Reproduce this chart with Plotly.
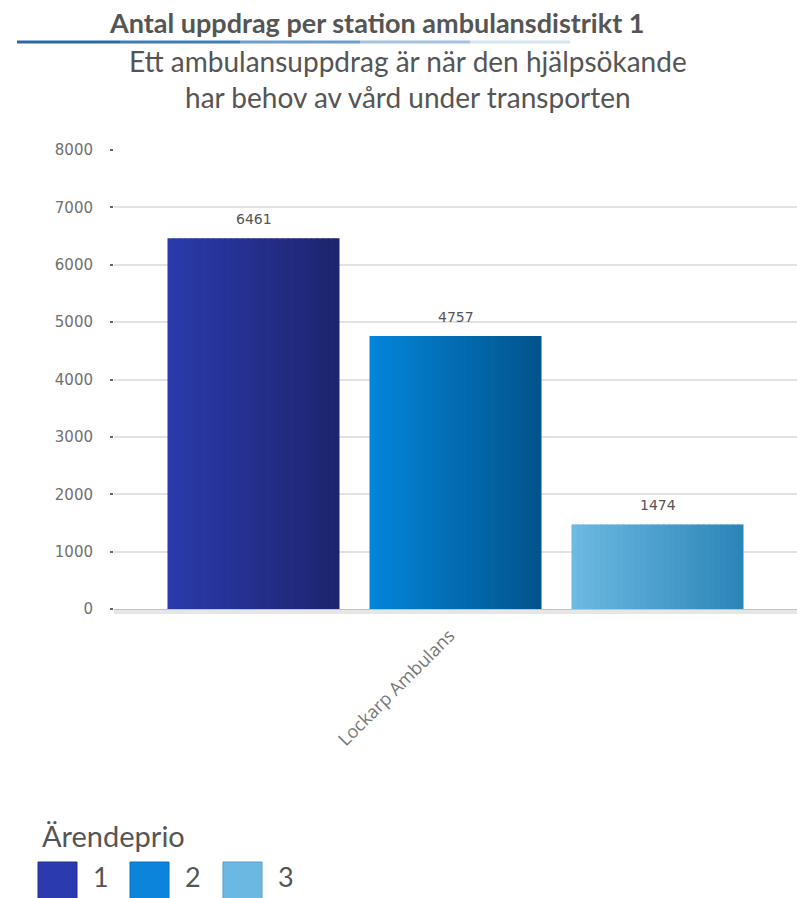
import plotly.graph_objects as go

categories = ["Lockarp Ambulans"]
priorities = ["1", "2", "3"]
values = [6461, 4757, 1474]
# gradient colours for each priority bar (left edge -> right edge)
left_colors = [(43, 58, 172), (3, 133, 218), (108, 185, 225)]
right_colors = [(29, 37, 110), (2, 84, 140), (43, 134, 184)]
legend_colors = ["#2B3AAE", "#0A85DB", "#6BB8E3"]
legend_borders = ["#243190", "#0873bd", "#5a9cc4"]
y_ticks = [0, 1000, 2000, 3000, 4000, 5000, 6000, 7000, 8000]

W, H = 797, 898
L, R, T, B = 114, 0, 150, 289
PW, PH = W - L - R, H - T - B


def px_x(x):
    return (x - L) / PW


def px_y(y):
    return (H - B - y) / PH


bar_w = 172 / PW
bar_step = 202 / PW
N = 30

fig = go.Figure()
for i, (p, v) in enumerate(zip(priorities, values)):
    start = (i - 1) * bar_step - bar_w / 2
    lc, rc = left_colors[i], right_colors[i]
    for k in range(N):
        t = k / (N - 1)
        col = "rgb(%d,%d,%d)" % tuple(round(lc[j] + (rc[j] - lc[j]) * t) for j in range(3))
        fig.add_trace(go.Bar(
            x=categories, y=[v], offset=start + k * bar_w / N,
            width=bar_w / N * 1.15 if k < N - 1 else bar_w / N,
            marker=dict(color=col, line=dict(width=0)),
            name=p, showlegend=False, hoverinfo="skip",
        ))
    # value label above the bar
    fig.add_annotation(
        x=categories[0], y=v, xref="x", yref="y", text=str(v),
        xshift=(i - 1) * bar_step * PW, yshift=9,
        xanchor="center", yanchor="bottom", showarrow=False,
        font=dict(family="DejaVu Sans", size=14, color="#555"),
    )

fig.update_layout(
    width=W, height=H,
    margin=dict(l=L, r=R, t=T, b=B, autoexpand=False),
    paper_bgcolor="white", plot_bgcolor="white",
    barmode="overlay", showlegend=False,
    xaxis=dict(
        range=[-0.5, 0.5],
        tickangle=-45, tickfont=dict(family="Open Sans", size=18, color="#777"),
        ticklabelshift=-6, ticklabelstandoff=7,
        showline=True, linecolor="#c4c4c4", linewidth=2, showgrid=False,
        ticks="", automargin=False,
    ),
    yaxis=dict(
        range=[0, 8000], tickvals=y_ticks,
        tickfont=dict(family="DejaVu Sans", size=15, color="#707070"),
        showgrid=True, gridcolor="#e2e2e2", gridwidth=1.5,
        ticks="outside", ticklen=3, tickcolor="#666", tickwidth=2,
        ticklabelstandoff=14,
        zeroline=False, showline=False, automargin=False,
    ),
    font=dict(family="Open Sans", color="#444"),
)

# axis shadow
fig.add_shape(type="line", xref="paper", yref="paper", x0=0, x1=1,
              y0=px_y(612), y1=px_y(612), line=dict(color="#e6e6e6", width=4))

fig.add_annotation(
    text="Antal uppdrag per station ambulansdistrikt 1",
    xref="paper", yref="paper", x=px_x(376), y=px_y(22),
    xanchor="center", yanchor="middle", showarrow=False,
    font=dict(family="Lato", size=27, color="#555", weight=700),
)
fig.add_annotation(
    text="Ett ambulansuppdrag är när den hjälpsökande<br>har behov av vård under transporten",
    xref="paper", yref="paper", x=px_x(408), y=px_y(79),
    xanchor="center", yanchor="middle", showarrow=False,
    font=dict(family="Lato", size=28, color="#555"),
)
# underline beneath title (fading blue)
segs = [(17, 120, "#2A6AA3"), (120, 240, "#3F7DB5"), (240, 360, "#6C9DCB"),
        (360, 470, "#A4C2E0"), (470, 570, "#D6E3F0")]
for x0, x1, col in segs:
    fig.add_shape(type="line", xref="paper", yref="paper",
                  x0=px_x(x0), x1=px_x(x1), y0=px_y(42), y1=px_y(42),
                  line=dict(color=col, width=3))

# legend (drawn manually to match square size)
fig.add_annotation(
    text="Ärendeprio", xref="paper", yref="paper", x=px_x(40), y=px_y(836),
    xanchor="left", yanchor="middle", showarrow=False,
    font=dict(family="Lato", size=29, color="#555"),
)
sq_x = [38, 130, 223]
for i, p in enumerate(priorities):
    fig.add_shape(type="rect", xref="paper", yref="paper",
                  x0=px_x(sq_x[i]), x1=px_x(sq_x[i] + 39),
                  y0=px_y(862), y1=px_y(905),
                  fillcolor=legend_colors[i], line=dict(color=legend_borders[i], width=1))
    fig.add_annotation(
        text=p, xref="paper", yref="paper", x=px_x(sq_x[i] + 63), y=px_y(877),
        xanchor="center", yanchor="middle", showarrow=False,
        font=dict(family="Lato", size=27, color="#555"),
    )

fig.write_html("out.html", post_script="document.body.style.margin='0';",
               config={"displayModeBar": False})
